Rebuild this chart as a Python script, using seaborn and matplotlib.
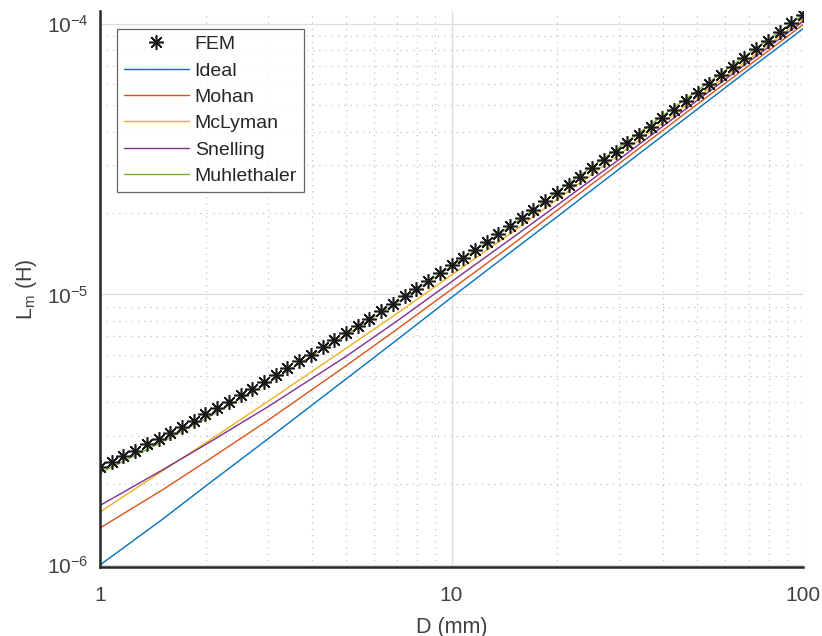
import numpy as np
import pandas as pd
import matplotlib
matplotlib.use("Agg")
import matplotlib.pyplot as plt
import seaborn as sns
from matplotlib.ticker import LogLocator, NullFormatter, FixedLocator, FixedFormatter
from matplotlib.lines import Line2D

# ---------------- data ----------------
# FEM sample diameters (mm): one decade of log-spaced values, repeated x10, plus 100
d_decade = [1.000, 1.080, 1.166, 1.259, 1.359, 1.468, 1.585, 1.711, 1.848, 1.995,
            2.154, 2.326, 2.512, 2.712, 2.929, 3.162, 3.415, 3.687, 3.981, 4.299,
            4.642, 5.012, 5.412, 5.843, 6.310, 6.813, 7.356, 7.943, 8.577, 9.261]
fem_D = d_decade + [v * 10 for v in d_decade] + [100.0]
# FEM inductance (uH)
fem_L_uH = [2.30, 2.41, 2.53, 2.65, 2.79, 2.93, 3.08, 3.24, 3.42, 3.61,
            3.81, 4.02, 4.25, 4.49, 4.75, 5.04, 5.33, 5.66, 6.00, 6.37,
            6.77, 7.19, 7.65, 8.14, 8.67, 9.24, 9.85, 10.51, 11.22, 11.98,
            12.81, 13.70, 14.65, 15.68, 16.78, 17.96, 19.24, 20.61, 22.09, 23.69,
            25.41, 27.25, 29.24, 31.38, 33.70, 36.18, 38.86, 41.75, 44.87, 48.25,
            51.86, 55.78, 60.00, 64.57, 69.47, 74.78, 80.49, 86.65, 93.33, 100.5,
            108.3]

# analytical models (uH) at these diameters (mm)
model_D = [1, 1.5, 2, 3, 5, 7, 10, 15, 20, 30, 50, 70, 100]
ideal_uH = [1.00, 1.47, 1.96, 2.92, 4.86, 6.80, 9.75, 14.6, 19.4, 29.1, 48.4, 67.7, 96.0]
mohan_uH = [1.37, 1.89, 2.41, 3.42, 5.44, 7.44, 10.45, 15.4, 20.5, 30.5, 50.5, 70.1, 99.5]
mclyman_uH = [1.57, 2.22, 2.83, 4.02, 6.31, 8.51, 11.8, 17.1, 22.5, 32.9, 53.6, 73.9, 104.3]
snelling_uH = [1.66, 2.24, 2.79, 3.84, 5.89, 7.98, 11.15, 16.3, 21.4, 31.6, 52.2, 72.4, 102.3]
muhle_uH = [2.19, 2.85, 3.48, 4.70, 7.08, 9.33, 12.7, 18.2, 24.0, 35.0, 56.7, 77.7, 108.0]

model_names = ["Ideal", "Mohan", "McLyman", "Snelling", "Muhlethaler"]
model_vals = [ideal_uH, mohan_uH, mclyman_uH, snelling_uH, muhle_uH]
colors = ["#0072BD", "#D95319", "#EDB120", "#7E2F8E", "#77AC30"]

x_ticks = [1, 10, 100]
x_ticklabels = ["1", "10", "100"]
y_ticks = [1e-6, 1e-5, 1e-4]
y_ticklabels = [r"$\mathregular{10^{-6}}$", r"$\mathregular{10^{-5}}$", r"$\mathregular{10^{-4}}$"]

# ---------------- frames ----------------
fem_df = pd.DataFrame({"D": fem_D, "L": np.array(fem_L_uH) * 1e-6})
rows = []
for name, vals in zip(model_names, model_vals):
    for d, v in zip(model_D, vals):
        rows.append({"D": d, "L": v * 1e-6, "model": name})
mod_df = pd.DataFrame(rows)

# ---------------- plot ----------------
sns.set_theme(style="white")
plt.rcParams["font.family"] = ["Liberation Sans", "DejaVu Sans"]
plt.rcParams["mathtext.fontset"] = "custom"
plt.rcParams["mathtext.rm"] = "Liberation Sans"
plt.rcParams["mathtext.it"] = "Liberation Sans:italic"
txt = "#262626"
lab = "#404040"

fig = plt.figure(figsize=(8.22, 6.36), dpi=100)
ax = fig.add_axes([100 / 822, 1 - 567 / 636, 703 / 822, 556 / 636])

ax.set_xscale("log")
ax.set_yscale("log")

sns.lineplot(data=mod_df, x="D", y="L", hue="model", hue_order=model_names,
             palette=colors, linewidth=1.0, ax=ax, legend=False)
sns.lineplot(data=fem_df, x="D", y="L", ax=ax, color="#1a1a1a", linestyle="none",
             marker=(8, 2, 0), markersize=10.5, markeredgewidth=1.15,
             markeredgecolor="#1a1a1a", legend=False)

ax.set_xlim(1, 100)
ax.set_ylim(0.983e-6, 1.117e-4)

# grids
ax.grid(True, which="major", color="#dcdcdc", linewidth=0.9, linestyle="-")
ax.grid(True, which="minor", color="#c4c4c4", linewidth=0.9, linestyle=(0, (1, 4)))
ax.set_axisbelow(True)

# ticks
ax.xaxis.set_major_locator(FixedLocator(x_ticks))
ax.xaxis.set_major_formatter(FixedFormatter(x_ticklabels))
ax.xaxis.set_minor_locator(LogLocator(base=10, subs=np.arange(2, 10)))
ax.xaxis.set_minor_formatter(NullFormatter())
ax.yaxis.set_major_locator(FixedLocator(y_ticks))
ax.yaxis.set_major_formatter(FixedFormatter(y_ticklabels))
ax.yaxis.set_minor_locator(LogLocator(base=10, subs=np.arange(2, 10)))
ax.yaxis.set_minor_formatter(NullFormatter())
ax.tick_params(which="major", direction="in", length=7, width=1.0, color=txt,
               labelcolor=lab, labelsize=15, top=False, right=False)
ax.tick_params(axis="x", which="major", pad=14)
ax.tick_params(axis="y", which="major", pad=8)
ax.tick_params(which="minor", direction="in", length=4, width=0.9, color=txt,
               top=False, right=False)

for s in ["top", "right"]:
    ax.spines[s].set_visible(False)
for s in ["left", "bottom"]:
    ax.spines[s].set_color(txt)
    ax.spines[s].set_linewidth(1.8)

ax.set_xlabel("D (mm)", fontsize=15.5, color=lab, labelpad=8)
ax.set_ylabel(r"L$_\mathregular{m}$ (H)", fontsize=15.5, color=lab, labelpad=6)

# legend
handles = [Line2D([], [], linestyle="none", marker=(8, 2, 0), markersize=10.5,
                  markeredgewidth=1.15, color="#1a1a1a")]
handles += [Line2D([], [], color=c, linewidth=1.0) for c in colors]
labels = ["FEM"] + model_names
leg = ax.legend(handles, labels, loc="upper left", bbox_to_anchor=(0.024, 0.968),
                borderaxespad=0, fontsize=14, handlelength=3.35, labelspacing=0.45,
                handletextpad=0.3, borderpad=0.35, frameon=True, fancybox=False)
leg.get_frame().set_edgecolor("#404040")
leg.get_frame().set_linewidth(0.9)
for t in leg.get_texts():
    t.set_color(txt)

fig.savefig("out.png", dpi=100)
